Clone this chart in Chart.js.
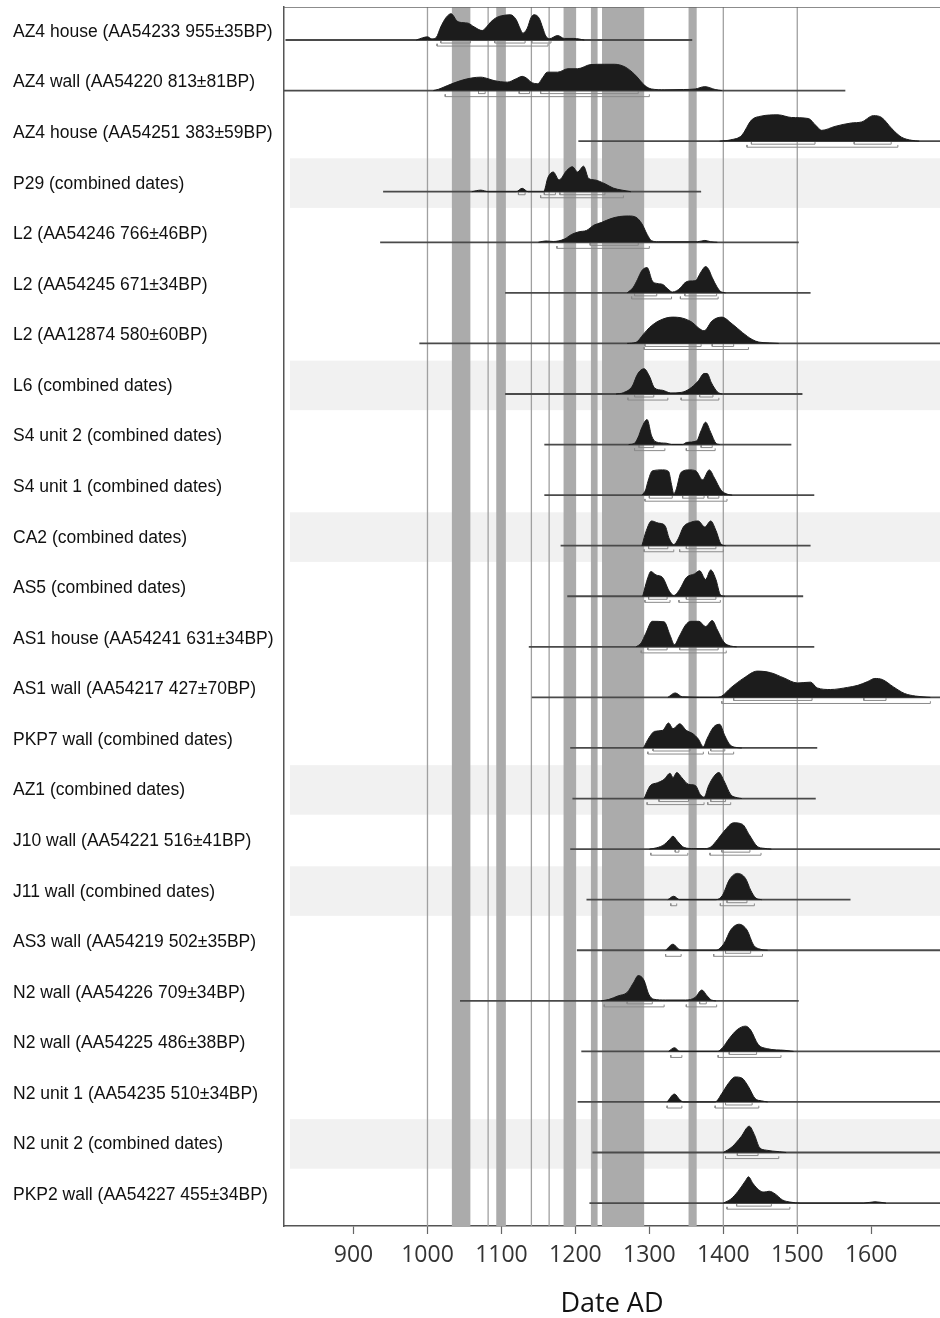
<!DOCTYPE html>
<html><head><meta charset="utf-8">
<script src="https://cdn.jsdelivr.net/npm/chart.js@4.4.0/dist/chart.umd.min.js"></script>
<style>html,body{margin:0;padding:0;background:#fff;}</style>
</head><body>
<canvas id="c" width="940" height="1318"></canvas>
<script>
// ---------- DATA ----------
const sampleLabels = [
  'AZ4 house (AA54233 955±35BP)','AZ4 wall (AA54220 813±81BP)','AZ4 house (AA54251 383±59BP)',
  'P29 (combined dates)','L2 (AA54246 766±46BP)','L2 (AA54245 671±34BP)','L2 (AA12874 580±60BP)',
  'L6 (combined dates)','S4 unit 2 (combined dates)','S4 unit 1 (combined dates)','CA2 (combined dates)',
  'AS5 (combined dates)','AS1 house (AA54241 631±34BP)','AS1 wall (AA54217 427±70BP)',
  'PKP7 wall (combined dates)','AZ1 (combined dates)','J10 wall (AA54221 516±41BP)',
  'J11 wall (combined dates)','AS3 wall (AA54219 502±35BP)','N2 wall (AA54226 709±34BP)',
  'N2 wall (AA54225 486±38BP)','N2 unit 1 (AA54235 510±34BP)','N2 unit 2 (combined dates)',
  'PKP2 wall (AA54227 455±34BP)'
];
const xTickValues = [900,1000,1100,1200,1300,1400,1500,1600];

// calibrated range line of each sample (years AD)
const rangeStart = [808,804,1204,940,936,1105,989,1105,1158,1158,1180,1189,1137,1141,1193,1196,1193,1215,1202,1044,1208,1203,1223,1219];
const rangeEnd   = [1358,1565,1700,1370,1502,1518,1700,1507,1492,1523,1518,1508,1523,1700,1527,1525,1700,1572,1700,1502,1700,1700,1700,1700];

// probability distributions: [year, relative probability]
const pAZ4house955 = [[985,0],[993,0.08],[1000,0.12],[1006,0.04],[1012,0.1],[1018,0.5],[1025,0.85],[1032,1.0],[1040,0.72],[1048,0.66],[1055,0.64],[1063,0.5],[1074,0.36],[1080,0.5],[1086,0.7],[1093,0.85],[1100,0.92],[1112,0.96],[1120,0.77],[1125,0.45],[1129,0.26],[1135,0.45],[1140,0.85],[1144,0.96],[1151,0.83],[1156,0.45],[1160,0.15],[1165,0.05],[1176,0.17],[1185,0.06],[1198,0.06],[1212,0]];
const pAZ4wall813 = [[1008,0],[1015,0.05],[1027,0.19],[1045,0.38],[1060,0.48],[1072,0.51],[1082,0.45],[1090,0.38],[1108,0.32],[1120,0.45],[1128,0.54],[1135,0.45],[1140,0.32],[1149,0.26],[1156,0.5],[1162,0.7],[1176,0.7],[1190,0.83],[1203,0.83],[1221,0.99],[1239,1.0],[1253,1.0],[1267,0.9],[1280,0.62],[1294,0.19],[1303,0.06],[1321,0.03],[1346,0.04],[1362,0.06],[1375,0.15],[1389,0.04],[1398,0]];
const pAZ4house383 = [[1395,0],[1410,0.05],[1425,0.22],[1438,0.8],[1451,0.95],[1474,1.0],[1492,0.9],[1515,0.86],[1525,0.6],[1533,0.41],[1551,0.56],[1573,0.69],[1587,0.73],[1603,0.97],[1614,0.9],[1628,0.47],[1641,0.15],[1655,0.03],[1665,0]];
const pP29 = [[1060,0],[1072,0.06],[1082,0],[1120,0],[1128,0.13],[1136,0],[1157,0],[1163,0.55],[1170,0.75],[1178,0.45],[1188,0.8],[1196,0.95],[1203,0.75],[1211,0.97],[1218,0.5],[1226,0.45],[1240,0.3],[1251,0.14],[1263,0.06],[1275,0]];
const pL2_766 = [[1150,0],[1160,0.05],[1170,0.03],[1185,0.12],[1195,0.3],[1205,0.4],[1215,0.45],[1225,0.65],[1235,0.75],[1248,0.9],[1260,0.98],[1272,1.0],[1282,0.95],[1290,0.7],[1297,0.3],[1303,0.06],[1312,0.02],[1365,0.02],[1375,0.07],[1383,0.02],[1392,0]];
const pL2_671 = [[1270,0],[1278,0.2],[1284,0.51],[1290,0.85],[1297,0.96],[1304,0.45],[1310,0.36],[1318,0.32],[1325,0.15],[1331,0.03],[1337,0.08],[1342,0.19],[1348,0.38],[1354,0.45],[1362,0.46],[1370,0.8],[1376,1.0],[1380,0.9],[1385,0.58],[1391,0.25],[1396,0.06],[1403,0]];
const pL2_580 = [[1270,0],[1282,0.04],[1292,0.35],[1300,0.6],[1313,0.86],[1331,1.0],[1345,0.96],[1358,0.8],[1366,0.6],[1374,0.48],[1385,0.86],[1398,1.0],[1412,0.74],[1426,0.41],[1439,0.15],[1448,0.05],[1462,0.02],[1475,0]];
const pL6 = [[1255,0],[1265,0.05],[1277,0.3],[1283,0.7],[1287,0.87],[1293,0.96],[1300,0.68],[1307,0.23],[1318,0.14],[1329,0.04],[1343,0.06],[1354,0.19],[1366,0.49],[1374,0.78],[1378,0.78],[1384,0.42],[1392,0.08],[1398,0]];
const pS4u2 = [[1272,0],[1280,0.05],[1286,0.35],[1289,0.59],[1297,0.95],[1303,0.33],[1309,0.1],[1323,0.05],[1330,0],[1345,0],[1350,0.08],[1364,0.14],[1370,0.53],[1376,0.85],[1383,0.46],[1390,0.05],[1395,0]];
const pS4u1 = [[1290,0],[1295,0.2],[1298,0.51],[1304,0.92],[1318,0.96],[1326,0.9],[1330,0.4],[1333,0.06],[1336,0.19],[1343,0.87],[1354,0.96],[1363,0.92],[1372,0.58],[1381,0.96],[1388,0.65],[1397,0.19],[1406,0.03],[1412,0]];
const pCA2 = [[1290,0],[1296,0.58],[1303,0.94],[1312,0.86],[1321,0.77],[1327,0.26],[1333,0.04],[1339,0.26],[1346,0.71],[1357,0.9],[1366,0.94],[1375,0.71],[1383,0.94],[1390,0.58],[1397,0.06],[1403,0]];
const pAS5 = [[1291,0],[1298,0.71],[1302,0.94],[1309,0.81],[1318,0.71],[1327,0.19],[1333,0.03],[1341,0.26],[1350,0.71],[1361,0.85],[1368,0.97],[1376,0.64],[1383,1.0],[1390,0.64],[1396,0.06],[1402,0]];
const pAS1house = [[1282,0],[1289,0.15],[1295,0.5],[1304,0.97],[1320,0.95],[1328,0.44],[1334,0.08],[1340,0.37],[1349,0.83],[1356,0.97],[1367,0.97],[1376,0.77],[1385,1.0],[1392,0.64],[1401,0.17],[1410,0.03],[1418,0]];
const pAS1wall = [[1325,0],[1335,0.17],[1345,0.02],[1390,0],[1398,0.05],[1410,0.36],[1428,0.74],[1446,1.0],[1464,0.94],[1482,0.74],[1500,0.55],[1518,0.58],[1527,0.36],[1545,0.3],[1568,0.38],[1582,0.46],[1595,0.6],[1605,0.72],[1615,0.68],[1630,0.4],[1645,0.15],[1660,0.05],[1680,0]];
const pPKP7 = [[1292,0],[1300,0.41],[1307,0.63],[1318,0.67],[1326,0.95],[1332,0.73],[1341,0.92],[1350,0.67],[1359,0.54],[1366,0.35],[1373,0.05],[1378,0.35],[1387,0.8],[1395,0.9],[1402,0.47],[1409,0.12],[1420,0.01],[1425,0]];
const pAZ1 = [[1293,0],[1301,0.48],[1311,0.6],[1320,0.73],[1328,0.96],[1332,0.79],[1337,0.99],[1344,0.79],[1353,0.54],[1362,0.5],[1369,0.15],[1374,0.05],[1380,0.48],[1387,0.83],[1394,0.99],[1401,0.67],[1410,0.15],[1419,0.03],[1425,0]];
const pJ10 = [[1300,0],[1310,0.05],[1320,0.17],[1327,0.36],[1332,0.49],[1338,0.3],[1347,0.06],[1360,0.02],[1375,0.02],[1383,0.08],[1392,0.36],[1401,0.68],[1414,1.0],[1426,0.94],[1435,0.55],[1446,0.1],[1455,0.03],[1465,0]];
const pJ11 = [[1325,0],[1333,0.13],[1341,0],[1390,0],[1399,0.17],[1408,0.75],[1419,1.0],[1430,0.81],[1437,0.36],[1444,0.06],[1452,0]];
const pAS3 = [[1322,0],[1332,0.23],[1339,0.06],[1345,0],[1390,0],[1401,0.26],[1410,0.77],[1421,0.99],[1432,0.77],[1441,0.19],[1450,0.04],[1460,0]];
const pN2wall709 = [[1235,0],[1245,0.05],[1258,0.19],[1270,0.32],[1279,0.71],[1285,0.96],[1293,0.77],[1299,0.26],[1306,0.06],[1322,0.03],[1349,0.03],[1362,0.13],[1371,0.41],[1378,0.19],[1384,0.03],[1390,0]];
const pN2wall486 = [[1326,0],[1334,0.14],[1341,0],[1392,0],[1399,0.14],[1408,0.49],[1419,0.83],[1430,0.96],[1437,0.81],[1447,0.27],[1460,0.1],[1483,0.04],[1495,0]];
const pN2unit1 = [[1324,0],[1334,0.3],[1341,0.09],[1346,0],[1389,0],[1398,0.32],[1407,0.71],[1416,0.95],[1425,0.91],[1434,0.58],[1443,0.13],[1452,0.04],[1460,0]];
const pN2unit2 = [[1400,0],[1412,0.22],[1424,0.6],[1435,1.0],[1442,0.68],[1449,0.19],[1458,0.09],[1476,0.03],[1485,0]];
const pPKP2 = [[1400,0],[1410,0.15],[1420,0.45],[1430,0.85],[1434,1.0],[1440,0.75],[1448,0.5],[1455,0.42],[1462,0.45],[1470,0.35],[1480,0.12],[1490,0.04],[1505,0],[1590,0],[1605,0.05],[1620,0]];

// 68.2% (sigma1) and 95.4% (sigma2) ranges
const sigma1 = [
  [[1018,1058],[1091,1132],[1141,1167]], [[1069,1078],[1124,1138],[1153,1285]], [[1438,1524],[1577,1627]],
  [[1123,1132],[1158,1173],[1179,1240]], [[1220,1285]], [[1280,1310],[1348,1391]], [[1294,1370],[1385,1414]],
  [[1280,1306],[1368,1386]], [[1286,1306],[1370,1385]], [[1300,1331],[1345,1374],[1379,1394]],
  [[1299,1325],[1350,1390]], [[1299,1324],[1350,1390]], [[1298,1324],[1341,1393]], [[1414,1520],[1590,1620]],
  [[1305,1355],[1383,1402]], [[1313,1353],[1383,1403]], [[1335,1340],[1398,1436]], [[1405,1432]],
  [[1403,1437]], [[1270,1304],[1368,1377]], [[1408,1445]], [[1403,1439]], [[1419,1447]], [[1418,1465]]
];
const sigma2 = [
  [[1013,1163]], [[1024,1300]], [[1432,1636]], [[1153,1265]], [[1175,1300]], [[1276,1330],[1342,1393]],
  [[1293,1434]], [[1271,1325],[1343,1394]], [[1280,1321],[1350,1389]], [[1294,1405]],
  [[1293,1333],[1341,1400]], [[1294,1328],[1340,1396]], [[1289,1404]], [[1398,1680]],
  [[1298,1373],[1380,1414]], [[1297,1374],[1379,1410]], [[1302,1352],[1382,1451]], [[1329,1337],[1396,1442]],
  [[1322,1343],[1387,1453]], [[1239,1320],[1350,1391]], [[1329,1344],[1393,1478]], [[1324,1344],[1389,1448]],
  [[1403,1475]], [[1405,1490]]
];

// event bands and reference lines (years AD)
const bandStart = [1033,1093,1184,1221,1236,1353];
const bandEnd   = [1058,1106,1201,1230,1293,1364];
const markerLines = [1000,1082,1140.5,1164.5,1400,1500];
// rows with faint show-through shading in the scanned original
const shadedRows = [3,7,10,15,17,22];

// ---------- CHART ----------
const densities = [pAZ4house955,pAZ4wall813,pAZ4house383,pP29,pL2_766,pL2_671,pL2_580,pL6,pS4u2,pS4u1,pCA2,pAS5,pAS1house,pAS1wall,pPKP7,pAZ1,pJ10,pJ11,pAS3,pN2wall709,pN2wall486,pN2unit1,pN2unit2,pPKP2];

const PEAK = 0.52;       // height of a full-probability peak, in row units
const S1_OFF = 0.06, S2_OFF = 0.12, TICK = 0.045;

function bracketData(ranges, row, off) {
  const pts = [];
  ranges.forEach(([a, b]) => {
    pts.push({x: a, y: row + off - TICK}, {x: a, y: row + off}, {x: b, y: row + off}, {x: b, y: row + off - TICK}, {x: b, y: null});
  });
  return pts;
}

const datasets = [];
densities.forEach((d, i) => {
  datasets.push({
    data: d.map(([x, p]) => ({x, y: i - p * PEAK})),
    fill: {value: i}, backgroundColor: '#1c1c1c', borderColor: '#1c1c1c',
    borderWidth: 1, pointRadius: 0, cubicInterpolationMode: 'monotone'
  });
  datasets.push({
    data: [{x: rangeStart[i], y: i}, {x: rangeEnd[i], y: i}],
    borderColor: '#4a4a4a', borderWidth: 1.8, pointRadius: 0, fill: false
  });
  datasets.push({data: bracketData(sigma1[i], i, S1_OFF), borderColor: '#8a8a8a', borderWidth: 1, pointRadius: 0, fill: false, spanGaps: false});
  datasets.push({data: bracketData(sigma2[i], i, S2_OFF), borderColor: '#8a8a8a', borderWidth: 1, pointRadius: 0, fill: false, spanGaps: false});
});

const backdrop = {
  id: 'backdrop',
  beforeDatasetsDraw(chart) {
    const {ctx, chartArea: ca, scales: {x, y}} = chart;
    ctx.save();
    ctx.beginPath(); ctx.rect(ca.left, ca.top, ca.right - ca.left, ca.bottom - ca.top); ctx.clip();
    ctx.fillStyle = '#f1f1f1';
    shadedRows.forEach(r => {
      const t = y.getPixelForValue(r - 0.66), b = y.getPixelForValue(r + 0.32);
      ctx.fillRect(ca.left + 6, t, ca.right - ca.left, b - t);
    });
    ctx.fillStyle = '#ababab';
    bandStart.forEach((s, k) => {
      const l = x.getPixelForValue(s), r = x.getPixelForValue(bandEnd[k]);
      ctx.fillRect(l, ca.top, r - l, ca.bottom - ca.top);
    });
    ctx.strokeStyle = '#a0a0a0'; ctx.lineWidth = 1.3;
    markerLines.forEach(v => {
      const px = x.getPixelForValue(v);
      ctx.beginPath(); ctx.moveTo(px, ca.top); ctx.lineTo(px, ca.bottom); ctx.stroke();
    });
    ctx.strokeStyle = '#666'; ctx.lineWidth = 1.5;
    ctx.beginPath(); ctx.moveTo(ca.left, ca.top); ctx.lineTo(ca.right, ca.top); ctx.stroke();
    ctx.restore();
  }
};

new Chart(document.getElementById('c'), {
  type: 'line',
  data: {datasets},
  plugins: [backdrop],
  options: {
    responsive: false, animation: false, parsing: true,
    layout: {padding: {left: 13, top: 7, right: 0, bottom: 0}},
    plugins: {legend: {display: false}, tooltip: {enabled: false}},
    scales: {
      x: {
        type: 'linear', position: 'bottom', min: 806, max: 1693,
        afterBuildTicks: s => { s.ticks = xTickValues.map(v => ({value: v})); },
        afterFit: s => { s.height = 92; s.paddingLeft = 0; s.paddingRight = 0; },
        grid: {drawOnChartArea: false, drawTicks: true, tickLength: 8, tickColor: '#666', tickWidth: 1.2},
        border: {display: true, color: '#555', width: 1.5},
        ticks: {callback: v => String(v), font: {family: 'Open Sans', size: 23}, color: '#333', padding: 8, maxRotation: 0, autoSkip: false},
        title: {display: true, text: 'Date AD', font: {family: 'Open Sans', size: 27, lineHeight: 1}, color: '#111', padding: {top: 0, bottom: 0}}
      },
      y: {
        type: 'linear', reverse: true, min: -0.6526, max: 23.453,
        afterBuildTicks: s => { s.ticks = sampleLabels.map((_, i) => ({value: i})); },
        afterFit: s => { s.width = 271; s.paddingTop = 0; s.paddingBottom = 0; },
        grid: {display: false, drawTicks: false},
        border: {display: true, color: '#555', width: 1.5},
        ticks: {
          callback: v => sampleLabels[v], font: {family: 'Liberation Sans', size: 17.5}, color: '#111',
          crossAlign: 'far', labelOffset: -8, autoSkip: false, padding: 0
        }
      }
    }
  }
});
</script>
</body></html>
